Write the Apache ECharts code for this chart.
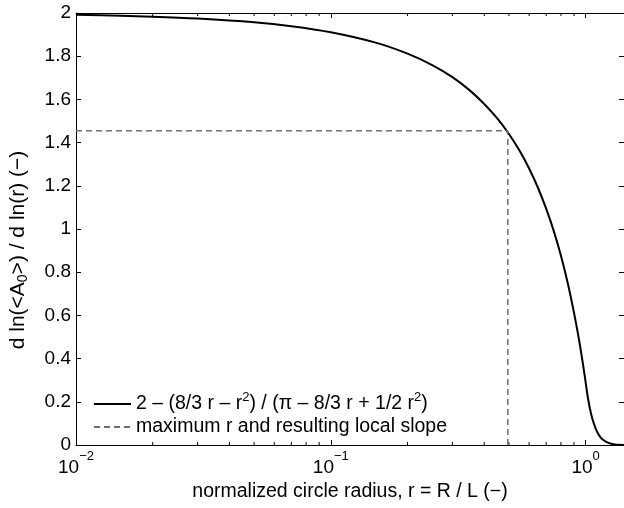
<!DOCTYPE html>
<html>
<head>
<meta charset="utf-8">
<script src="https://cdn.jsdelivr.net/npm/echarts@6/dist/echarts.min.js"></script>
<style>html,body{margin:0;padding:0;background:#fff}#chart{width:624px;height:508px}</style>
</head>
<body>
<div id="chart"></div>
<script>
// ---- data ----
const radius = [0.01, 0.015, 0.02, 0.03, 0.05, 0.07, 0.1, 0.15, 0.2, 0.25, 0.3, 0.35, 0.4, 0.45, 0.5, 0.55, 0.6, 0.65, 0.7, 0.75, 0.8, 0.85, 0.9, 0.93, 0.95, 0.97, 0.99, 1.0, 1.02, 1.05, 1.08, 1.11, 1.15, 1.2, 1.25, 1.3, 1.35, 1.414];
const slope  = [1.992, 1.987, 1.983, 1.974, 1.957, 1.939, 1.911, 1.863, 1.812, 1.759, 1.703, 1.643, 1.579, 1.512, 1.440, 1.363, 1.280, 1.191, 1.094, 0.990, 0.876, 0.751, 0.613, 0.524, 0.461, 0.395, 0.326, 0.29, 0.22, 0.145, 0.095, 0.06, 0.032, 0.016, 0.007, 0.0025, 0.0006, 0];
const maxR = 0.495;
const maxSlope = 1.455;
const seriesNames = ['curve', 'maximum r and resulting local slope'];
const yTickMin = 0, yTickMax = 2, yTickStep = 0.2;
const xMin = 0.01, xMax = 1.4142;
const xLabel = 'normalized circle radius, r = R / L (−)';
const yLabel = 'd ln(<A{sub|0}>) / d ln(r) (−)';

const FONT = 'Liberation Sans';
const TICK_FS = 19, LAB_FS = 19.5, SUP_FS = 13;
const minorTicks = [];
for (let d = -2; d < 1; d++) {
  for (let m = 2; m <= 9; m++) {
    const v = m * Math.pow(10, d);
    if (v > xMin && v < xMax) minorTicks.push([v, 0]);
  }
}

const curveData = radius.map((r, i) => [r, slope[i]]);
const dashData = [[xMin, maxSlope], [maxR, maxSlope], [maxR, 0]];

const chart = echarts.init(document.getElementById('chart'), null, {renderer: 'canvas'});
const legendCommon = {
  orient: 'vertical', left: 88,
  itemWidth: 37, itemHeight: 14, itemGap: 8,
  itemStyle: {color: 'rgba(0,0,0,0)', borderColor: 'rgba(0,0,0,0)', borderWidth: 0},
  formatter: n => n === 'curve' ? '2 – (8/3 r – r{sup|2}) / (π – 8/3 r + 1/2 r{sup|2})' : n,
  textStyle: {fontSize: LAB_FS, fontFamily: FONT, color: '#000',
    rich: {sup: {fontSize: SUP_FS, fontFamily: FONT, color: '#000', padding: [0, 0, 13, 0]}}}
};
chart.setOption({
  animation: false,
  backgroundColor: '#fff',
  textStyle: {fontFamily: FONT},
  grid: {left: 74, top: 13, right: -1, bottom: 63, containLabel: false},
  legend: [
    Object.assign({}, legendCommon, {top: 386, data: [seriesNames[0]]}),
    Object.assign({}, legendCommon, {top: 412, data: [seriesNames[1]]})
  ],
  xAxis: [{
    type: 'log', logBase: 10, min: xMin, max: xMax, position: 'bottom',
    name: xLabel, nameLocation: 'middle', nameGap: 35,
    nameTextStyle: {fontSize: LAB_FS, fontFamily: FONT, color: '#000'},
    axisLine: {onZero: false, lineStyle: {color: '#000', width: 1}},
    axisTick: {inside: true, length: 5, lineStyle: {color: '#000'}},
    splitLine: {show: false},
    axisLabel: {
      margin: 5, color: '#000', fontSize: TICK_FS, fontFamily: FONT,
      showMaxLabel: false,
      formatter: v => {
        const e = Math.log10(v);
        if (Math.abs(e - Math.round(e)) > 1e-6) return '';
        const n = Math.round(e);
        return '10{sup|' + (n < 0 ? '−' + (-n) : n) + '}';
      },
      rich: {sup: {fontSize: SUP_FS, fontFamily: FONT, color: '#000', padding: [0, 0, 22, 0]}}
    }
  }, {
    type: 'log', logBase: 10, min: xMin, max: xMax, position: 'top',
    axisLine: {onZero: false, lineStyle: {color: '#000', width: 1}},
    axisTick: {inside: true, length: 5, lineStyle: {color: '#000'}},
    axisLabel: {show: false}, splitLine: {show: false}
  }],
  yAxis: [{
    type: 'value', min: yTickMin, max: yTickMax, interval: yTickStep, position: 'left',
    name: yLabel, nameLocation: 'middle', nameGap: 46, nameRotate: 90,
    nameTextStyle: {fontSize: 21, fontFamily: FONT, color: '#000', padding: [0, 42, 0, 0],
      rich: {sub: {fontSize: 14, fontFamily: FONT, color: '#000', padding: [9, 0, 0, 0]}}},
    axisLine: {show: true, onZero: false, lineStyle: {color: '#000', width: 1}},
    axisTick: {show: true, inside: true, length: 5, lineStyle: {color: '#000'}},
    axisLabel: {color: '#000', fontSize: TICK_FS, fontFamily: FONT, margin: 5,
      formatter: v => String(Math.round(v * 10) / 10)},
    splitLine: {show: false}
  }, {
    type: 'value', min: yTickMin, max: yTickMax, interval: yTickStep, position: 'right',
    axisLine: {show: true, onZero: false, lineStyle: {color: '#000', width: 1}},
    axisTick: {show: true, inside: true, length: 5, lineStyle: {color: '#000'}},
    axisLabel: {show: false}, splitLine: {show: false}
  }],
  series: [{
    name: 'curve', type: 'line', data: curveData, xAxisIndex: 0, yAxisIndex: 0,
    symbol: 'none', smooth: 0.3, clip: true,
    lineStyle: {color: '#000', width: 2}, itemStyle: {color: '#000'}
  }, {
    name: 'maximum r and resulting local slope', type: 'line', data: dashData,
    symbol: 'none', lineStyle: {color: '#707070', width: 1.5, type: [6, 4]}, itemStyle: {color: '#707070'}
  }, {
    type: 'custom', silent: true, data: minorTicks, xAxisIndex: 0, yAxisIndex: 0, clip: false,
    renderItem: (params, api) => {
      const x = api.coord([api.value(0), 1])[0];
      const cs = params.coordSys;
      const yb = cs.y + cs.height, yt = cs.y;
      return {type: 'group', children: [
        {type: 'line', shape: {x1: x, y1: yb, x2: x, y2: yb - 3}, style: {stroke: '#000', lineWidth: 1}},
        {type: 'line', shape: {x1: x, y1: yt, x2: x, y2: yt + 3}, style: {stroke: '#000', lineWidth: 1}}
      ]};
    }
  }]
});
</script>
</body>
</html>
